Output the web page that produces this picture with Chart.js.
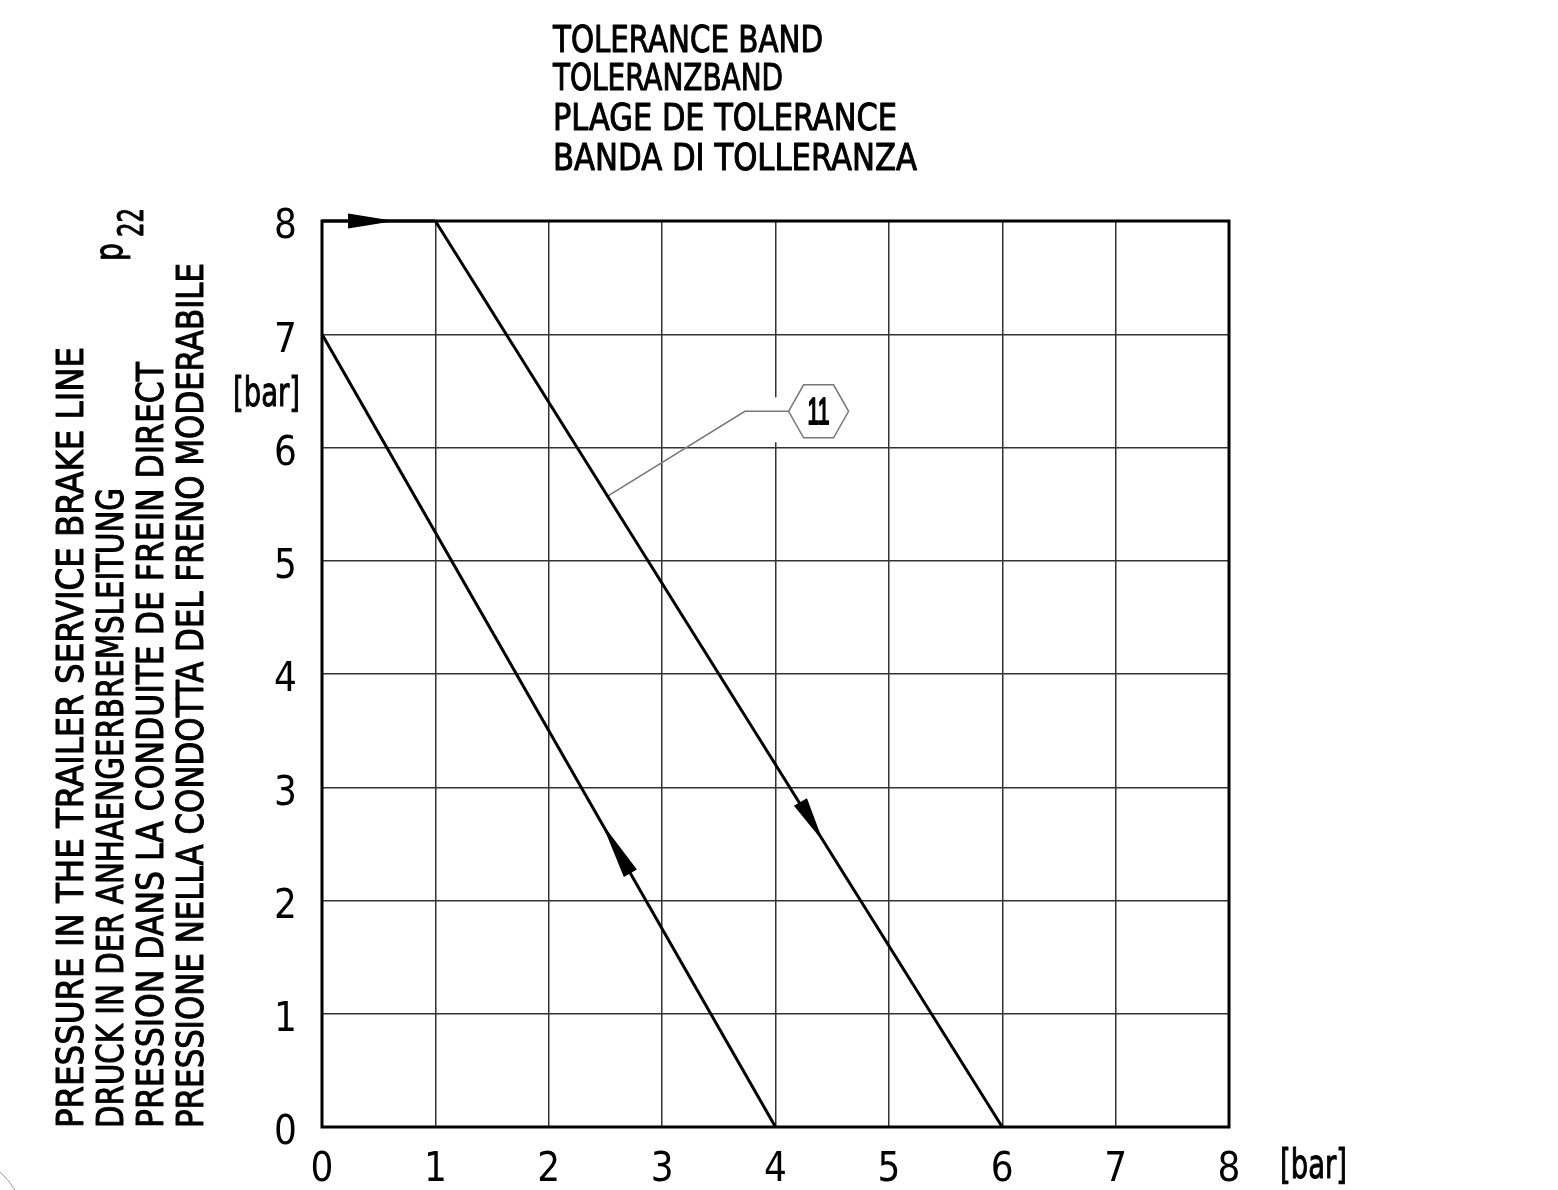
<!DOCTYPE html>
<html>
<head>
<meta charset="utf-8">
<script src="https://cdn.jsdelivr.net/npm/chart.js@4.4.1/dist/chart.umd.min.js"></script>
<style>
  html, body { margin: 0; padding: 0; background: #fff; }
  canvas { display: block; }
</style>
</head>
<body>
<canvas id="myChart" width="1558" height="1190"></canvas>
<script>
/**
 *   tolerance band p22 - drawn with chart.js
 */

const FONT = '"Liberation Sans Narrow", "DejaVu Sans Condensed", "Liberation Sans", sans-serif';

// axis ticks [bar]
const xTicks = [0, 1, 2, 3, 4, 5, 6, 7, 8];
const yTicks = [0, 1, 2, 3, 4, 5, 6, 7, 8];

// band limits
const riseX = [4, 0];
const riseY = [0, 7];
const topX = [0, 1];
const topY = [8, 8];
const fallX = [1, 6];
const fallY = [8, 0];

// arrows on the band: from -> to
const arrowFrom = [[0.23, 8], [2.72, 2.24], [4.22, 2.87]];
const arrowTo = [[0.64, 8], [2.47, 2.68], [4.42, 2.52]];

// callout 11
const leaderX = [2.52, 3.73, 4.12];
const leaderY = [5.57, 6.32, 6.32];
const calloutAt = [4.38, 6.32];
const calloutLabel = '11';

const titleLines = ['TOLERANCE BAND', 'TOLERANZBAND', 'PLAGE DE TOLERANCE', 'BANDA DI TOLLERANZA'];
const yTitleLines = [
  'PRESSURE IN THE TRAILER SERVICE BRAKE LINE',
  'DRUCK IN DER ANHAENGERBREMSLEITUNG',
  'PRESSION DANS LA CONDUITE DE FREIN DIRECT',
  'PRESSIONE NELLA CONDOTTA DEL FRENO MODERABILE'
];
const unitLabel = '[bar]';

const pts = (xs, ys) => xs.map((x, i) => ({ x: x, y: ys[i] }));

// text squeezed/stretched to a given width, slightly emboldened
function fitText(ctx, txt, x, y, w, size, rot, fam, bold) {
  ctx.save();
  ctx.font = size + 'px ' + (fam || FONT);
  ctx.textBaseline = 'alphabetic';
  ctx.textAlign = 'left';
  ctx.translate(x, y);
  if (rot) ctx.rotate(-Math.PI / 2);
  const m = ctx.measureText(txt).width;
  ctx.scale(w / m, 1);
  ctx.fillText(txt, 0, 0);
  ctx.strokeStyle = ctx.fillStyle;
  ctx.lineWidth = bold || 1;
  ctx.lineJoin = 'round';
  ctx.strokeText(txt, 0, 0);
  ctx.restore();
}

const drawing = {
  id: 'drawing',
  beforeDatasetsDraw(chart) {
    const ctx = chart.ctx;
    const xs = chart.scales.x, ys = chart.scales.y;
    // wipeout of the grid near the callout
    const cx = xs.getPixelForValue(calloutAt[0]);
    const cy = ys.getPixelForValue(calloutAt[1]);
    ctx.save();
    ctx.fillStyle = '#fff';
    ctx.fillRect(cx - 52, cy - 14, 20, 45);
    ctx.restore();
  },
  afterDatasetsDraw(chart) {
    const ctx = chart.ctx;
    const a = chart.chartArea;
    const xs = chart.scales.x, ys = chart.scales.y;
    ctx.save();
    // frame
    ctx.strokeStyle = '#000';
    ctx.lineWidth = 3;
    ctx.strokeRect(a.left, a.top, a.right - a.left, a.bottom - a.top);

    // arrows
    ctx.fillStyle = '#000';
    arrowFrom.forEach((f, i) => {
      const x0 = xs.getPixelForValue(f[0]), y0 = ys.getPixelForValue(f[1]);
      const x1 = xs.getPixelForValue(arrowTo[i][0]), y1 = ys.getPixelForValue(arrowTo[i][1]);
      const len = Math.hypot(x1 - x0, y1 - y0);
      const nx = -(y1 - y0) / len * 7.5, ny = (x1 - x0) / len * 7.5;
      ctx.beginPath();
      ctx.moveTo(x1, y1);
      ctx.lineTo(x0 + nx, y0 + ny);
      ctx.lineTo(x0 - nx, y0 - ny);
      ctx.closePath();
      ctx.fill();
    });

    // callout hexagon
    const cx = xs.getPixelForValue(calloutAt[0]);
    const cy = ys.getPixelForValue(calloutAt[1]);
    ctx.strokeStyle = '#777';
    ctx.lineWidth = 1.5;
    ctx.fillStyle = '#fff';
    ctx.beginPath();
    ctx.moveTo(cx - 30, cy);
    ctx.lineTo(cx - 15, cy - 26.5);
    ctx.lineTo(cx + 15, cy - 26.5);
    ctx.lineTo(cx + 30, cy);
    ctx.lineTo(cx + 15, cy + 26.5);
    ctx.lineTo(cx - 15, cy + 26.5);
    ctx.closePath();
    ctx.fill();
    ctx.stroke();
    ctx.fillStyle = '#000';
    fitText(ctx, calloutLabel, cx - 11, cy + 13, 22, 37, false, '"Liberation Sans", sans-serif', 2);
    ctx.restore();
  },
  afterDraw(chart) {
    const ctx = chart.ctx;
    ctx.save();
    ctx.fillStyle = '#000';
    // title block
    const tb = [52, 90, 130, 170];
    const tw = [270, 230, 344, 364];
    titleLines.forEach((t, i) => fitText(ctx, t, 553, tb[i], tw[i], 37, false));
    // rotated y title
    const yb = [83, 123, 163, 203];
    const yw = [781, 640, 766, 865];
    yTitleLines.forEach((t, i) => fitText(ctx, t, yb[i], 1128, yw[i], 38, true));
    // p22
    fitText(ctx, 'p', 122, 261, 18, 38, true);
    fitText(ctx, '22', 143, 237, 29, 35, true);
    // units
    fitText(ctx, unitLabel, 233, 406, 67, 40, false);
    fitText(ctx, unitLabel, 1280, 1178, 67, 40, false);
    // stray mark lower left
    ctx.strokeStyle = '#999';
    ctx.lineWidth = 1;
    ctx.beginPath();
    ctx.moveTo(0, 1172);
    ctx.quadraticCurveTo(9, 1180, 15, 1190);
    ctx.stroke();
    ctx.restore();
  }
};

const ctx = document.getElementById('myChart').getContext('2d');
const myChart = new Chart(ctx, {
  type: 'scatter',
  data: {
    datasets: [
      { data: pts(riseX, riseY), showLine: true, borderColor: '#000', borderWidth: 3, pointRadius: 0, tension: 0, clip: false },
      { data: pts(topX, topY), showLine: true, borderColor: '#000', borderWidth: 3, pointRadius: 0, tension: 0, clip: false },
      { data: pts(fallX, fallY), showLine: true, borderColor: '#000', borderWidth: 3, pointRadius: 0, tension: 0, clip: false },
      { data: pts(leaderX, leaderY), showLine: true, borderColor: '#777', borderWidth: 1.5, pointRadius: 0, tension: 0, clip: false }
    ]
  },
  options: {
    responsive: false,
    animation: false,
    layout: { padding: { left: 222, right: 329, top: 221, bottom: 0 } },
    plugins: { legend: { display: false }, tooltip: { enabled: false } },
    scales: {
      x: {
        type: 'linear', min: 0, max: 8,
        afterFit: (s) => { s.height = 63; },
        afterBuildTicks: (s) => { s.ticks = xTicks.map(v => ({ value: v })); },
        grid: { color: '#333', lineWidth: 1.5, drawTicks: false },
        border: { display: false },
        ticks: { color: '#000', padding: 20, font: { family: FONT, size: 40 } }
      },
      y: {
        type: 'linear', min: 0, max: 8,
        afterFit: (s) => { s.width = 100; },
        afterBuildTicks: (s) => { s.ticks = yTicks.map(v => ({ value: v })); },
        grid: { color: '#333', lineWidth: 1.5, drawTicks: false },
        border: { display: false },
        ticks: { color: '#000', padding: 25, labelOffset: 7, font: { family: FONT, size: 40 } }
      }
    }
  },
  plugins: [drawing]
});
</script>
</body>
</html>
